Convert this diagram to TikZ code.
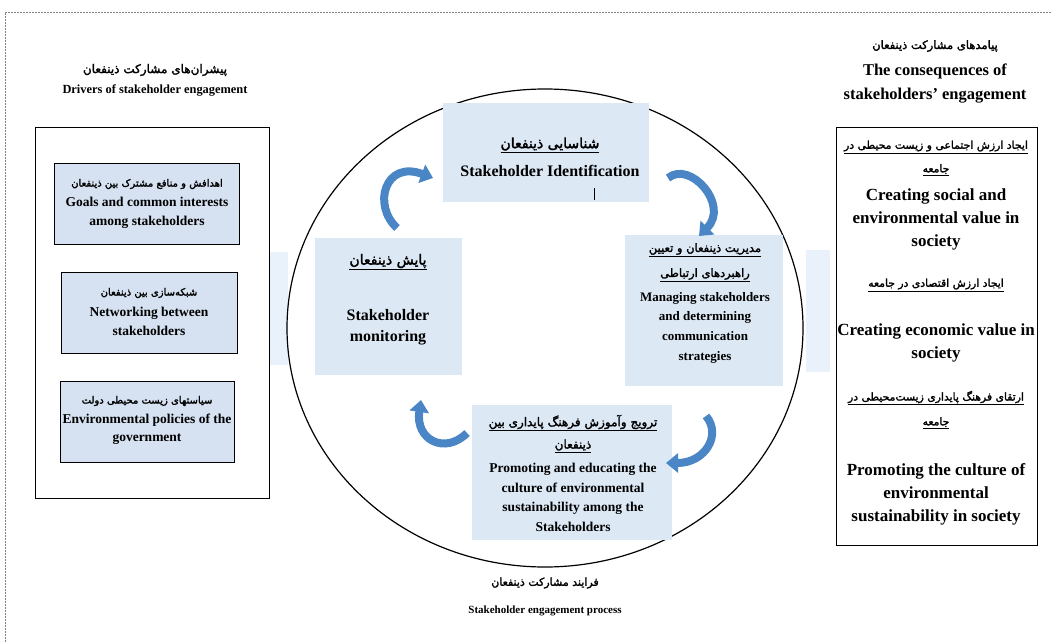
\documentclass[tikz,border=0pt]{standalone}
\usepackage{fontspec}
\setmainfont{Liberation Serif}
\newfontfamily\fa[Script=Arabic,FakeBold=2]{DejaVu Sans}
\TeXXeTstate=1
\usetikzlibrary{arrows.meta}
\newcommand\FA[1]{{\fa\beginR #1\endR}}
\newcommand\FU[1]{\underline{\fa\beginR #1\endR}}
\definecolor{arrowblue}{RGB}{74,134,198}
\definecolor{boxblue}{RGB}{221,232,245}
\definecolor{lboxblue}{RGB}{214,226,241}
\definecolor{faintblue}{RGB}{233,241,251}
\begin{document}
\begin{tikzpicture}[x=1pt,y=-1pt,
  en/.style={font=\fontsize{#1}{#1}\selectfont\bfseries, align=center, inner sep=0pt},
  pf/.style={font=\fontsize{#1}{#1}\selectfont, inner sep=0pt},
  lbox/.style={draw, line width=0.8pt, fill=lboxblue, inner sep=0pt},
  cbox/.style={fill=boxblue, inner sep=0pt},
  arr/.style={draw=arrowblue, line width=8pt, -{Triangle[width=19pt,length=12pt]}}]
\useasboundingbox (0,0) rectangle (1051,642);
% outer dashed frame
\draw[gray, dash pattern=on 2pt off 1pt, line width=0.8pt] (5,642) -- (5,12) -- (1051,12);
% faint side bands
\fill[faintblue] (270,252) rectangle (288,365);
\fill[faintblue] (806,250) rectangle (830,372);
% left titles
\node[pf=12] (lt1) at (155,70) {\FA{پیشران‌های مشارکت ذینفعان}};
\node[en=12.4] (lt2) at (155,91) {Drivers of stakeholder engagement};
% left panel
\node[draw, line width=0.9pt, minimum width=234pt, minimum height=371pt, inner sep=0pt] (lp) at (152,312.5) {};
\node[lbox, minimum width=185pt, minimum height=81pt] (b1) at (146.5,203.5) {};
\node[lbox, minimum width=176pt, minimum height=81pt] (b2) at (149,312.5) {};
\node[lbox, minimum width=174pt, minimum height=81pt] (b3) at (147,421.5) {};
\node[pf=10] (b1p) at (147,184) {\FA{اهدافش و منافع مشترک بین ذینفعان}};
\node[en=13.5, font=\fontsize{13.5}{18.5}\selectfont\bfseries] (b1e) at (147,213) {Goals and common interests\\among stakeholders};
\node[pf=10] (b2p) at (149,293) {\FA{شبکه‌سازی بین ذینفعان}};
\node[en=13.5, font=\fontsize{13.5}{19}\selectfont\bfseries] (b2e) at (149,321.5) {Networking between\\stakeholders};
\node[pf=10] (b3p) at (147,401) {\FA{سیاستهای زیست محیطی دولت}};
\node[en=13.5, font=\fontsize{13.5}{18}\selectfont\bfseries] (b3e) at (147,429) {Environmental policies of the\\government};
% right titles
\node[pf=11.5] (rt1) at (935,46) {\FA{پیامدهای مشارکت ذینفعان}};
\node[en=16.5, font=\fontsize{16.5}{24}\selectfont\bfseries] (rt2) at (935,84) {The consequences of\\stakeholders' engagement};
% right panel
\node[draw, line width=0.9pt, minimum width=201pt, minimum height=418pt, inner sep=0pt] (rp) at (936.5,336) {};
\node[pf=10.8] (r1p) at (936,147) {\FU{ایجاد ارزش اجتماعی و زیست محیطی در}};
\node[pf=10.8] (r1q) at (936,170) {\FU{جامعه}};
\node[en=17, font=\fontsize{17}{23}\selectfont\bfseries] (r1e) at (936,219) {Creating social and\\environmental value in\\society};
\node[pf=10.8] (r2p) at (936,285) {\FU{ایجاد ارزش اقتصادی در جامعه}};
\node[en=17, font=\fontsize{17}{23}\selectfont\bfseries] (r2e) at (936,342.5) {Creating economic value in\\society};
\node[pf=10.8] (r3p) at (936,398) {\FU{ارتقای فرهنگ پایداری زیست‌محیطی در}};
\node[pf=10.8] (r3q) at (936,423) {\FU{جامعه}};
\node[en=17, font=\fontsize{17}{23}\selectfont\bfseries] (r3e) at (936,494) {Promoting the culture of\\environmental\\sustainability in society};
% circle
\draw[line width=1.2pt] (545,328) ellipse [x radius=258, y radius=239];
% center boxes
\node[cbox, minimum width=206pt, minimum height=99pt] (c1) at (546,152.5) {};
\node[cbox, minimum width=158pt, minimum height=151pt] (c2) at (704,310) {};
\node[cbox, minimum width=147pt, minimum height=137pt] (c3) at (388.5,306.5) {};
\node[cbox, minimum width=200pt, minimum height=135pt] (c4) at (572,472.5) {};
\node[pf=14] (c1p) at (550,145) {\FU{شناسایی ذینفعان}};
\node[en=16] (c1e) at (550,171) {Stakeholder Identification};
\coordinate (bar1) at (594,188);
\coordinate (bar2) at (594,200);
\draw[line width=0.6pt] (bar1) -- (bar2);
\node[pf=11.5] (c2p) at (705,250) {\FU{مدیریت ذینفعان و تعیین}};
\node[pf=11.5] (c2q) at (705,275) {\FU{راهبردهای ارتباطی}};
\node[en=13, font=\fontsize{13}{19.7}\selectfont\bfseries] (c2e) at (705,327.5) {Managing stakeholders\\and determining\\communication\\strategies};
\node[pf=14] (c3p) at (388,262) {\FU{پایش ذینفعان}};
\node[en=16, font=\fontsize{16}{21}\selectfont\bfseries] (c3e) at (388,327) {Stakeholder\\monitoring};
\node[pf=12] (c4p) at (573,423) {\FU{ترویج  وآموزش فرهنگ پایداری  بین}};
\node[pf=12] (c4q) at (573,446) {\FU{ذینفعان}};
\node[en=13.5, font=\fontsize{13.5}{19.7}\selectfont\bfseries] (c4e) at (573,497.5) {Promoting and educating the\\culture of environmental\\sustainability among the\\Stakeholders};
% cycle arrows
\coordinate (a1s) at (397,228); \coordinate (a1e) at (433,178);
\coordinate (a2s) at (668,178); \coordinate (a2e) at (699,236);
\coordinate (a3s) at (706,416); \coordinate (a3e) at (666,463);
\coordinate (a4s) at (467,433); \coordinate (a4e) at (421,400);
\draw[arr] (a1s) .. controls (372,205) and (385,160) .. (a1e);
\draw[arr] (a2s) .. controls (690,160) and (730,205) .. (a2e);
\draw[arr] (a3s) .. controls (722,435) and (705,463) .. (a3e);
\draw[arr] (a4s) .. controls (445,455) and (415,440) .. (a4e);
% bottom labels
\node[pf=11] (bt1) at (545,583) {\FA{فرایند مشارکت ذینفعان}};
\node[en=11] (bt2) at (545,611) {Stakeholder engagement process};
\end{tikzpicture}
\end{document}
